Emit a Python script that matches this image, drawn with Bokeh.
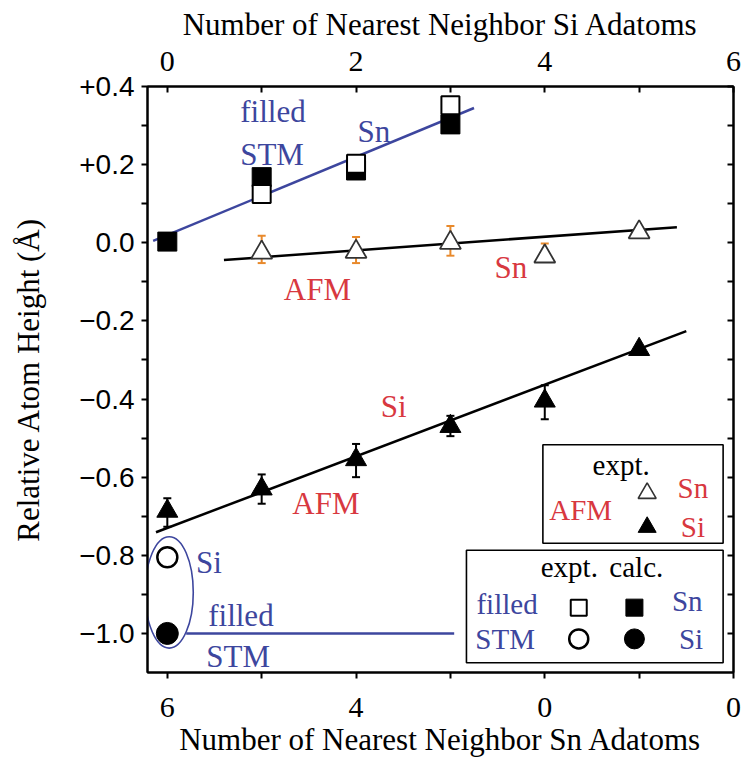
from bokeh.plotting import figure
from bokeh.models import (LinearAxis, FixedTicker, CustomJSTickFormatter, Range1d,
                          Whisker, TeeHead, ColumnDataSource, BoxAnnotation)
from bokeh.core.properties import value
from bokeh.embed import file_html
from bokeh.resources import INLINE

# ---------------- data ----------------
# filled-state STM, Sn adatoms (x = number of nearest-neighbour Si adatoms)
stm_sn_calc_x = [0, 1, 2, 3]
stm_sn_calc_y = [0.003, 0.168, 0.185, 0.303]
stm_sn_expt_x = [1, 2, 3]
stm_sn_expt_y = [0.125, 0.202, 0.352]
stm_sn_fit_x = [-0.15, 3.25]
stm_sn_fit_y = [0.005, 0.345]

# filled-state STM, Si adatom
stm_si_expt_x = [0]
stm_si_expt_y = [-0.805]
stm_si_calc_x = [0]
stm_si_calc_y = [-1.0]
stm_si_line_x = [0.2, 3.04]
stm_si_line_y = [-1.0, -1.0]

# AFM, Sn adatoms (open triangles, orange error bars)
afm_sn_x = [1, 2, 3, 4, 5]
afm_sn_y = [-0.025, -0.023, 0.0, -0.035, 0.027]
afm_sn_err_x = [1, 2, 3, 4]
afm_sn_err_hi = [0.018, 0.015, 0.043, -0.002]
afm_sn_err_lo = [-0.052, -0.052, -0.033, -0.046]
afm_sn_fit_x = [0.6, 5.4]
afm_sn_fit_y = [-0.044, 0.040]

# AFM, Si adatoms (filled triangles)
afm_si_x = [0, 1, 2, 3, 4, 5]
afm_si_y = [-0.687, -0.630, -0.555, -0.470, -0.405, -0.273]
afm_si_err_x = [0, 1, 2, 3, 4]
afm_si_err_hi = [-0.654, -0.593, -0.515, -0.443, -0.365]
afm_si_err_lo = [-0.727, -0.668, -0.600, -0.495, -0.452]
afm_si_fit_x = [-0.12, 5.5]
afm_si_fit_y = [-0.741, -0.226]

y_ticks = [0.4, 0.2, 0.0, -0.2, -0.4, -0.6, -0.8, -1.0]
y_minor = [0.3, 0.1, -0.1, -0.3, -0.5, -0.7, -0.9]
top_ticks = [0, 2, 4, 6]
top_minor = [1, 3, 5]
bottom_tick_pos = [0, 2, 4, 6]
bottom_tick_labels = ["6", "4", "0", "0"]

top_title = "Number of Nearest Neighbor Si Adatoms"
bottom_title = "Number of Nearest Neighbor Sn Adatoms"
left_title = "Relative Atom Height (Å)"

BLUE = "#3d469e"
RED = "#d8383f"
ORANGE = "#e8892b"
SERIF = "Liberation Serif"

# in-plot annotation labels
lab_text = ["filled", "STM", "Sn", "AFM", "Sn", "Si", "AFM", "Si", "filled", "STM"]
lab_x = [1.12, 1.11, 2.19, 1.59, 3.64, 2.40, 1.68, 0.44, 0.78, 0.75]
lab_y = [0.336, 0.226, 0.285, -0.119, -0.063, -0.42, -0.667, -0.818, -0.955, -1.06]
lab_color = [BLUE, BLUE, BLUE, RED, RED, RED, RED, BLUE, BLUE, BLUE]

# legend boxes (data units)
leg_boxes = [(3.98, 5.89, -0.517, -0.769), (3.17, 5.89, -0.787, -1.075)]
leg_text = ["expt.", "AFM", "Sn", "Si", "expt.", "calc.", "filled", "STM", "Sn", "Si"]
leg_tx = [4.81, 4.38, 5.57, 5.57, 4.26, 4.97, 3.60, 3.58, 5.51, 5.55]
leg_ty = [-0.569, -0.685, -0.628, -0.728, -0.831, -0.831, -0.924, -1.014, -0.916, -1.014]
leg_tc = ["black", RED, RED, RED, "black", "black", BLUE, BLUE, BLUE, BLUE]

# ---------------- figure ----------------
p = figure(width=741, height=760, x_range=Range1d(-0.21, 6.0), y_range=Range1d(-1.1, 0.4),
           output_backend="svg", toolbar_location=None,
           x_axis_location=None, y_axis_location=None,
           min_border_left=147, min_border_right=8, min_border_top=86, min_border_bottom=88)
p.grid.visible = False
p.outline_line_color = "black"
p.outline_line_width = 2
p.background_fill_color = "white"
p.border_fill_color = "white"


def style_axis(ax, tin, tout):
    ax.axis_line_color = "black"
    ax.axis_line_width = 2
    ax.major_tick_line_width = 2
    ax.minor_tick_line_width = 2
    ax.major_tick_in = tin
    ax.major_tick_out = tout
    ax.minor_tick_in = tin
    ax.minor_tick_out = tout
    ax.major_label_text_font = SERIF
    ax.major_label_text_font_size = "30px"
    ax.major_label_text_color = "black"
    ax.axis_label_text_font = SERIF
    ax.axis_label_text_font_size = "31px"
    ax.axis_label_text_font_style = "normal"
    ax.axis_label_text_color = "black"


left = LinearAxis(ticker=FixedTicker(ticks=y_ticks, minor_ticks=y_minor),
                  formatter=CustomJSTickFormatter(code="""
                    if (Math.abs(tick) < 1e-9) { return '0.0'; }
                    return (tick > 0 ? '+' : '\u2212') + Math.abs(tick).toFixed(1);"""),
                  axis_label=left_title)
style_axis(left, 0, 6)
left.major_label_text_font = "Liberation Sans"
left.major_label_text_font_size = "28px"
left.major_label_standoff = 7
left.axis_label_standoff = 30
p.add_layout(left, "left")

right = LinearAxis(ticker=FixedTicker(ticks=y_ticks, minor_ticks=y_minor),
                   formatter=CustomJSTickFormatter(code="return '';"))
style_axis(right, 6, 0)
right.major_label_text_font_size = "1px"
right.major_label_standoff = 0
p.add_layout(right, "right")

top = LinearAxis(ticker=FixedTicker(ticks=top_ticks, minor_ticks=top_minor), axis_label=top_title)
style_axis(top, 6, 0)
top.major_label_standoff = 16
top.axis_label_standoff = 7
p.add_layout(top, "above")

bottom = LinearAxis(ticker=FixedTicker(ticks=bottom_tick_pos, minor_ticks=top_minor),
                    formatter=CustomJSTickFormatter(args=dict(pos=bottom_tick_pos, labels=bottom_tick_labels),
                                                    code="const i = pos.indexOf(Math.round(tick)); return i >= 0 ? labels[i] : '';"),
                    axis_label=bottom_title)
style_axis(bottom, 0, 6)
bottom.major_label_standoff = 19
bottom.axis_label_standoff = 2
p.add_layout(bottom, "below")

# ---------------- fits ----------------
p.line(stm_sn_fit_x, stm_sn_fit_y, line_color=BLUE, line_width=2.5)
p.line(afm_sn_fit_x, afm_sn_fit_y, line_color="black", line_width=2.5)
p.line(afm_si_fit_x, afm_si_fit_y, line_color="black", line_width=2.5)
p.line(stm_si_line_x, stm_si_line_y, line_color=BLUE, line_width=2.5)
p.ellipse(x=[0.02], y=[-0.895], width=[0.51], height=[0.285],
          fill_color=None, line_color=BLUE, line_width=1.6)

# ---------------- error bars ----------------
src_sn = ColumnDataSource(dict(base=afm_sn_err_x, upper=afm_sn_err_hi, lower=afm_sn_err_lo))
p.add_layout(Whisker(source=src_sn, base="base", upper="upper", lower="lower", dimension="height",
                     line_color=ORANGE, line_width=2, level="underlay",
                     upper_head=TeeHead(size=8, line_color=ORANGE, line_width=2),
                     lower_head=TeeHead(size=8, line_color=ORANGE, line_width=2)))
src_si = ColumnDataSource(dict(base=afm_si_err_x, upper=afm_si_err_hi, lower=afm_si_err_lo))
p.add_layout(Whisker(source=src_si, base="base", upper="upper", lower="lower", dimension="height",
                     line_color="black", line_width=2, level="underlay",
                     upper_head=TeeHead(size=8, line_color="black", line_width=2),
                     lower_head=TeeHead(size=8, line_color="black", line_width=2)))

# ---------------- markers ----------------
p.scatter(stm_sn_calc_x, stm_sn_calc_y, marker="square", size=19, fill_color="black", line_color="black")
p.scatter(stm_sn_expt_x, stm_sn_expt_y, marker="square", size=18, fill_color="white",
          line_color="black", line_width=2)
p.scatter(afm_sn_x, afm_sn_y, marker="triangle", size=21, fill_color="white",
          line_color="#333333", line_width=1.8)
p.scatter(afm_si_x, afm_si_y, marker="triangle", size=21, fill_color="black", line_color="black")
p.scatter(stm_si_expt_x, stm_si_expt_y, marker="circle", size=20, fill_color="white",
          line_color="black", line_width=2.5)
p.scatter(stm_si_calc_x, stm_si_calc_y, marker="circle", size=22, fill_color="black", line_color="black")

# ---------------- labels ----------------
p.text(x=lab_x, y=lab_y, text=lab_text, text_color=lab_color, text_font=value(SERIF),
       text_font_size="31px", text_align="center", text_baseline="middle")

# ---------------- legends ----------------
for (l, r, t, b) in leg_boxes:
    p.add_layout(BoxAnnotation(left=l, right=r, top=t, bottom=b, fill_color=None,
                               line_color="black", line_width=1.6, line_alpha=1.0))
p.text(x=leg_tx, y=leg_ty, text=leg_text, text_color=leg_tc, text_font=value(SERIF),
       text_font_size="29px", text_align="center", text_baseline="middle")
p.scatter([5.085], [-0.641], marker="triangle", size=18, fill_color="white", line_color="#333333", line_width=1.6)
p.scatter([5.085], [-0.728], marker="triangle", size=18, fill_color="black", line_color="black")
p.scatter([4.36], [-0.934], marker="square", size=16, fill_color="white", line_color="black", line_width=2)
p.scatter([4.95], [-0.934], marker="square", size=17, fill_color="black", line_color="black")
p.scatter([4.36], [-1.014], marker="circle", size=19, fill_color="white", line_color="black", line_width=2.5)
p.scatter([4.95], [-1.014], marker="circle", size=20, fill_color="black", line_color="black")

open("out.html", "w").write(file_html(p, INLINE))
